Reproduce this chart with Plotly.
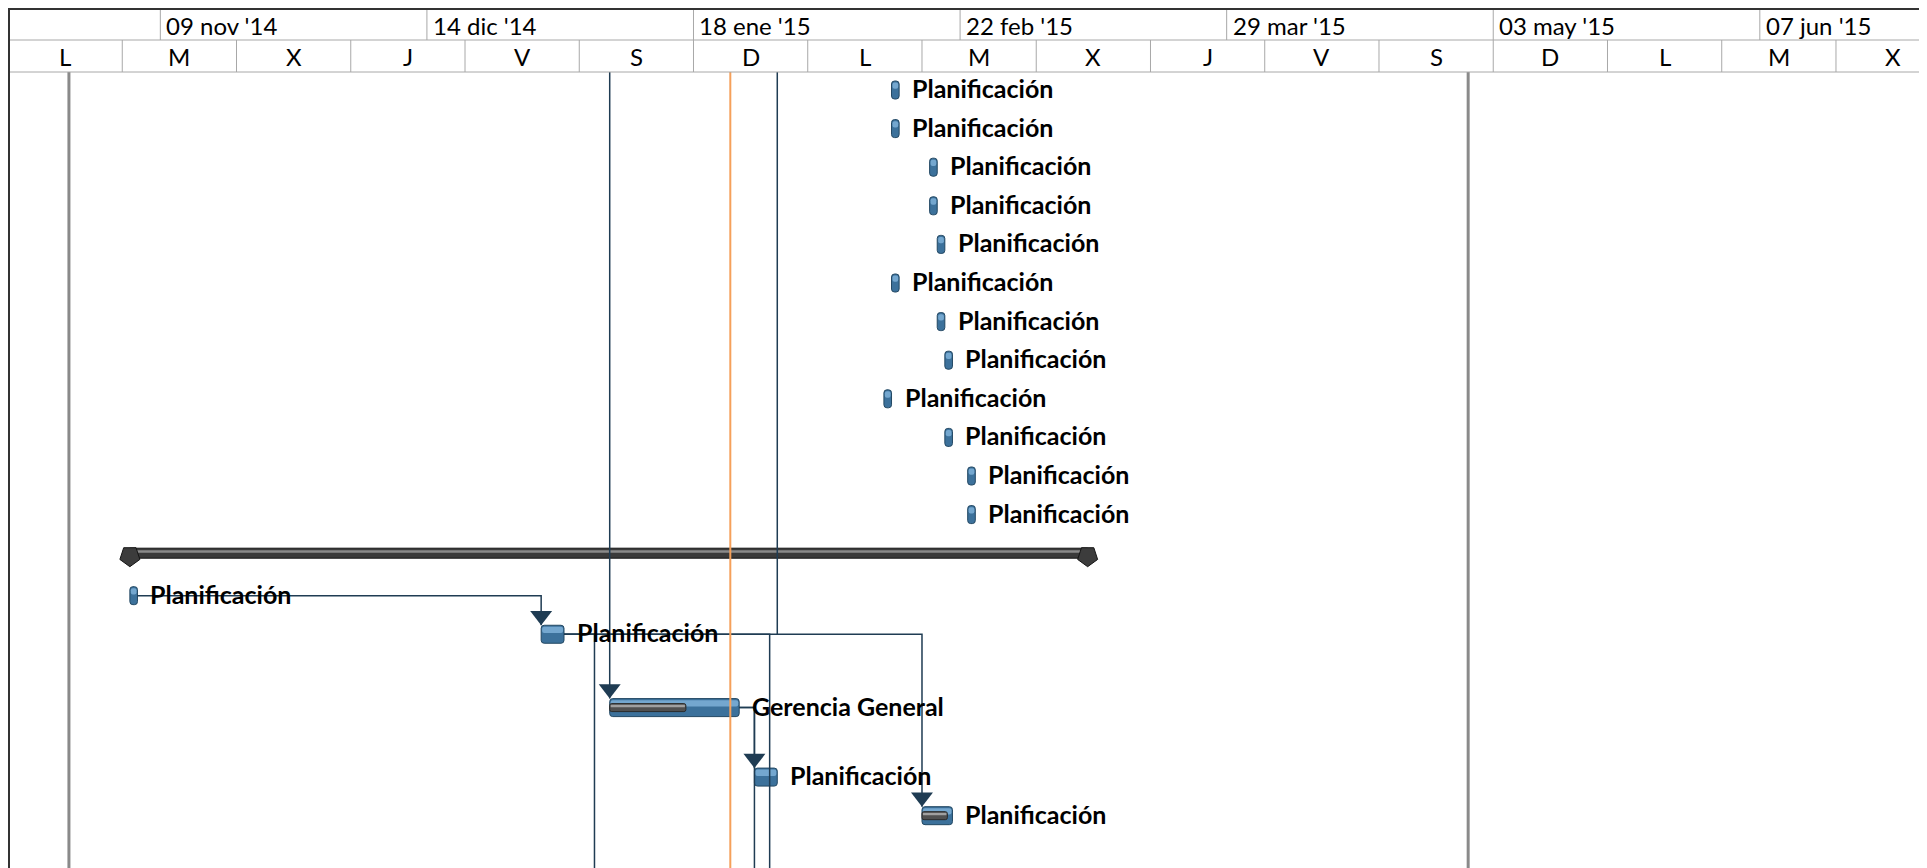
import plotly.graph_objects as go
import pandas as pd

# ---- timescale (two tiers, as in the Project view) ----
top_tier_dates = ["2014-11-09", "2014-12-14", "2015-01-18", "2015-02-22",
                  "2015-03-29", "2015-05-03", "2015-06-07"]
top_tier_labels = ["09 nov '14", "14 dic '14", "18 ene '15", "22 feb '15",
                   "29 mar '15", "03 may '15", "07 jun '15"]
bottom_tier_dates = ["2014-10-20", "2014-11-04", "2014-11-19", "2014-12-04",
                     "2014-12-19", "2015-01-03", "2015-01-18", "2015-02-02",
                     "2015-02-17", "2015-03-04", "2015-03-19", "2015-04-03",
                     "2015-04-18", "2015-05-03", "2015-05-18", "2015-06-02",
                     "2015-06-17"]
bottom_tier_labels = ["L", "M", "X", "J", "V", "S", "D", "L", "M",
                      "X", "J", "V", "S", "D", "L", "M", "X"]
view_start = "2014-10-20"
view_end = "2015-06-30"

# ---- tasks ----
task_labels = ["Planificación"] * 12 + ["Planificación", "Planificación",
               "Gerencia General", "Planificación", "Planificación"]
task_rows = [1, 2, 3, 4, 5, 6, 7, 8, 9, 10, 11, 12, 14.1, 15.1, 17, 18.8, 19.8]
task_start = ["2015-02-13", "2015-02-13", "2015-02-18", "2015-02-18", "2015-02-19",
              "2015-02-13", "2015-02-19", "2015-02-20", "2015-02-12", "2015-02-20",
              "2015-02-23", "2015-02-23", "2014-11-05", "2014-12-29", "2015-01-07",
              "2015-01-26", "2015-02-17"]
task_finish = ["2015-02-14", "2015-02-14", "2015-02-19", "2015-02-19", "2015-02-20",
               "2015-02-14", "2015-02-20", "2015-02-21", "2015-02-13", "2015-02-21",
               "2015-02-24", "2015-02-24", "2014-11-06", "2015-01-01", "2015-01-24",
               "2015-01-29", "2015-02-21"]

# progress (actual work done) bars
progress_rows = [17, 19.8]
progress_start = ["2015-01-07", "2015-02-17"]
progress_finish = ["2015-01-17", "2015-02-20 08:00"]

# summary task
summary_row = 13
summary_start = "2014-11-05"
summary_finish = "2015-03-10 18:00"

# ---- dependency links (rows 0 / 22 = tasks scrolled out of view) ----
link_from_x = ["2014-11-06", "2015-01-07", "2015-01-24", "2015-01-24",
               "2015-01-01", "2015-01-01", "2015-01-01", "2015-01-29"]
link_from_row = [14.1, 0, 17, 17, 15.1, 15.1, 15.1, 0]
link_to_x = ["2014-12-29", "2015-01-07", "2015-01-26", "2015-01-26",
             "2015-02-17", "2015-01-05", "2015-01-28", "2015-01-29"]
link_to_row = [15.1, 17, 18.8, 22, 19.8, 22, 22, 15.1]
link_arrow = [True, True, True, False, True, False, False, False]

# project start / finish and status date
project_lines = ["2014-10-28", "2015-04-29 17:00"]
status_date = "2015-01-22 20:00"

# ---- geometry / style (pixels inside the figure; page adds an 8px body margin) ----
W, H = 1927, 868
HEADER_TOP, HEADER_MID, HEADER_BOT = 1, 32, 64
ROW_PX, FIRST_ROW_PX = 38.6, 82.0
BAR_H = 18 / ROW_PX
SUM_H = 10 / ROW_PX
PROG_H = 8 / ROW_PX
ARROW_SIZE = 19
FONT = "Lato"
LINK_COLOR = "#1f3c53"
BLUE, BLUE_EDGE, BLUE_HI = "#3c719b", "#234863", "#74a7cf"

y_top = 1 - (FIRST_ROW_PX - HEADER_BOT) / ROW_PX
y_bottom = 1 + (H - FIRST_ROW_PX) / ROW_PX


def paper_y(px):
    return 1 - px / H


def ms(a, b):
    return [(pd.Timestamp(f) - pd.Timestamp(s)).total_seconds() * 1000 for s, f in zip(a, b)]


inset = pd.Timedelta(hours=3)

fig = go.Figure()

# links first so bars sit on top
for fx, fr, tx, tr, arr in zip(link_from_x, link_from_row, link_to_x, link_to_row, link_arrow):
    end_row = tr - BAR_H / 2 if arr else tr
    fig.add_trace(go.Scatter(
        x=[fx, tx, tx], y=[fr, fr, end_row], mode="lines",
        line=dict(color=LINK_COLOR, width=1.5), hoverinfo="skip"
    ))

arrow_x = [tx for tx, a in zip(link_to_x, link_arrow) if a]
arrow_y = [tr - BAR_H / 2 - (ARROW_SIZE / 2) / ROW_PX for tr, a in zip(link_to_row, link_arrow) if a]
fig.add_trace(go.Scatter(
    x=arrow_x, y=arrow_y, mode="markers",
    marker=dict(symbol="triangle-down", size=ARROW_SIZE, color=LINK_COLOR, line=dict(width=0)),
    hoverinfo="skip"
))

# task bars
fig.add_trace(go.Bar(
    base=task_start, x=ms(task_start, task_finish), y=task_rows, orientation="h",
    width=BAR_H, marker=dict(color=BLUE, line=dict(color=BLUE_EDGE, width=1), cornerradius=3),
    text=task_labels, hovertemplate="%{text}<extra></extra>", textposition="none"
))
hi_start = [pd.Timestamp(s) + inset for s in task_start]
hi_finish = [pd.Timestamp(f) - inset for f in task_finish]
fig.add_trace(go.Bar(
    base=hi_start, x=ms(hi_start, hi_finish), y=task_rows, orientation="h",
    width=BAR_H * 0.35, offset=-BAR_H / 2 + 0.04,
    marker=dict(color=BLUE_HI, line=dict(width=0), cornerradius=2),
    hoverinfo="skip"
))

# progress bars
fig.add_trace(go.Bar(
    base=progress_start, x=ms(progress_start, progress_finish), y=progress_rows,
    orientation="h", width=PROG_H,
    marker=dict(color="#505050", line=dict(color="#2b2b2b", width=1), cornerradius=2),
    hoverinfo="skip"
))
fig.add_trace(go.Bar(
    base=[pd.Timestamp(s) + inset for s in progress_start],
    x=ms([pd.Timestamp(s) + inset for s in progress_start],
         [pd.Timestamp(f) - inset for f in progress_finish]),
    y=progress_rows, orientation="h", width=PROG_H * 0.3, offset=-PROG_H / 2 + 0.03,
    marker=dict(color="#a0a0a0", line=dict(width=0)), hoverinfo="skip"
))

# summary bar with end caps
fig.add_trace(go.Bar(
    base=[summary_start], x=ms([summary_start], [summary_finish]), y=[summary_row],
    orientation="h", width=SUM_H,
    marker=dict(color="#3a3a3a", line=dict(color="#151515", width=1)), hoverinfo="skip"
))
fig.add_trace(go.Bar(
    base=[summary_start], x=ms([summary_start], [summary_finish]), y=[summary_row],
    orientation="h", width=SUM_H * 0.25, offset=-SUM_H / 2 + 0.05,
    marker=dict(color="#8a8a8a", line=dict(width=0)), hoverinfo="skip"
))
fig.add_trace(go.Scatter(
    x=[summary_start, summary_finish], y=[summary_row + 3 / ROW_PX] * 2, mode="markers",
    marker=dict(symbol="pentagon", angle=180, size=21, color="#3c3c3c",
                line=dict(color="#151515", width=1)),
    hoverinfo="skip"
))

# bar labels
for label, row, fin in zip(task_labels, task_rows, task_finish):
    fig.add_annotation(
        x=fin, y=row, xref="x", yref="y", text=label, showarrow=False,
        xanchor="left", yanchor="middle", xshift=11, yshift=2,
        font=dict(family=FONT, size=25, color="black", weight="bold")
    )

# vertical markers
for d in project_lines:
    fig.add_shape(type="line", xref="x", yref="y domain", x0=d, x1=d, y0=0, y1=1,
                  line=dict(color="#8a8a8a", width=3), layer="below")
fig.add_shape(type="line", xref="x", yref="y domain", x0=status_date, x1=status_date,
              y0=0, y1=1, line=dict(color="#f5a05a", width=2), layer="above")

# ---- timescale header ----
grid = dict(color="#a8a8a8", width=1)
for px in (HEADER_MID, HEADER_BOT):
    fig.add_shape(type="line", xref="paper", yref="paper", x0=0, x1=1,
                  y0=paper_y(px), y1=paper_y(px), line=grid)
for d, lab in zip(top_tier_dates, top_tier_labels):
    fig.add_shape(type="line", xref="x", yref="paper", x0=d, x1=d,
                  y0=paper_y(HEADER_MID), y1=paper_y(HEADER_TOP), line=grid)
    fig.add_annotation(x=d, y=paper_y((HEADER_TOP + HEADER_MID) / 2 + 1), xref="x", yref="paper",
                       text=lab, showarrow=False, xanchor="left", yanchor="middle", xshift=4,
                       font=dict(family=FONT, size=24, color="black"))
for i, (d, lab) in enumerate(zip(bottom_tier_dates, bottom_tier_labels)):
    if i > 0:
        fig.add_shape(type="line", xref="x", yref="paper", x0=d, x1=d,
                      y0=paper_y(HEADER_BOT), y1=paper_y(HEADER_MID), line=grid)
    mid = pd.Timestamp(d) + pd.Timedelta(days=7.5)
    fig.add_annotation(x=mid, y=paper_y((HEADER_MID + HEADER_BOT) / 2 + 1), xref="x", yref="paper",
                       text=lab, showarrow=False, xanchor="center", yanchor="middle",
                       font=dict(family=FONT, size=24, color="black"))

# outer frame (top and left)
frame = dict(color="#333333", width=2)
fig.add_shape(type="line", xref="paper", yref="paper", x0=0, x1=1,
              y0=paper_y(HEADER_TOP), y1=paper_y(HEADER_TOP), line=frame)
fig.add_shape(type="line", xref="paper", yref="paper", x0=1 / W, x1=1 / W,
              y0=0, y1=paper_y(HEADER_TOP), line=frame)

fig.update_layout(
    width=W, height=H,
    margin=dict(l=0, r=0, t=0, b=0),
    paper_bgcolor="white", plot_bgcolor="white",
    showlegend=False, barmode="overlay",
    xaxis=dict(type="date", range=[view_start, view_end], domain=[0, 1],
               showgrid=False, showticklabels=False, zeroline=False, showline=False),
    yaxis=dict(range=[y_bottom, y_top], domain=[0, paper_y(HEADER_BOT)],
               showgrid=False, showticklabels=False, zeroline=False, showline=False),
)

fig.write_html("out.html")
